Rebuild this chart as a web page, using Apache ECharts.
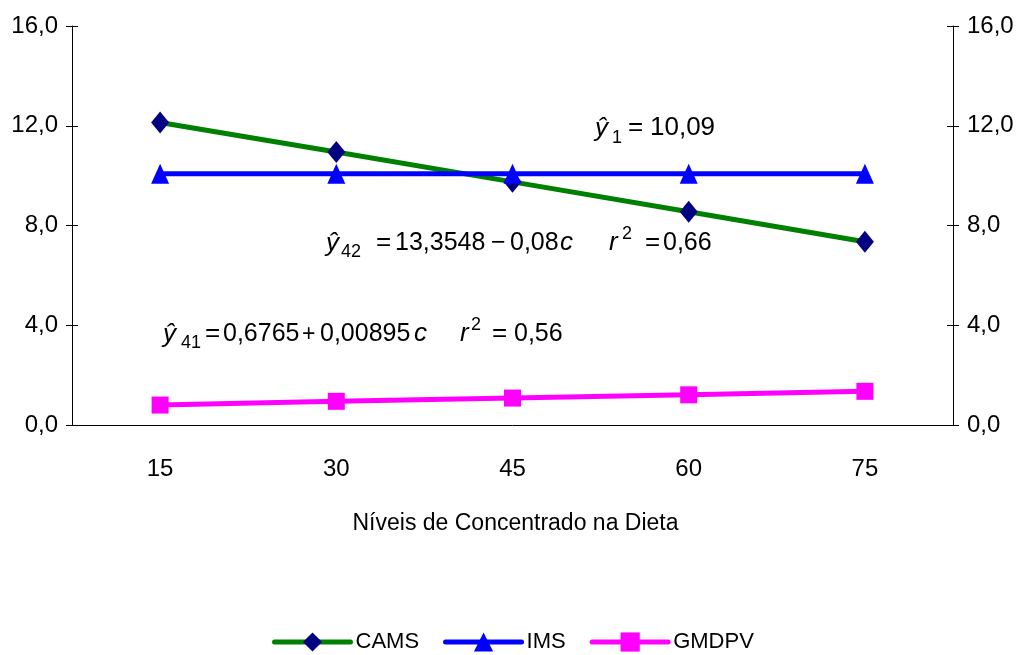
<!DOCTYPE html>
<html>
<head>
<meta charset="utf-8">
<script src="https://cdn.jsdelivr.net/npm/echarts@6/dist/echarts.min.js"></script>
<style>
  html, body { margin: 0; padding: 0; background: #fff; }
  #chart { width: 1022px; height: 655px; }
</style>
</head>
<body>
<div id="chart"></div>
<script>
// niveis de concentrado (eixo x)
var niveis = ['15', '30', '45', '60', '75'];
// valores
var cams = [12.13, 10.95, 9.75, 8.55, 7.35];
var ims = [10.08, 10.08, 10.08, 10.08, 10.08];
var gmdpv = [0.80, 0.95, 1.08, 1.21, 1.35];
var yTicks = [0, 4, 8, 12, 16];

var FONT = '"Liberation Sans", Arial, sans-serif';

function fmt(v) {
    return v.toFixed(1).replace('.', ',');
}

// pedaços das equações: texto, x, linha de base, tamanho, itálico
var eq1 = [
    ['ŷ', 595, 138, 26, true],
    ['1', 612, 144, 18, false],
    ['=', 628, 137, 26, false],
    ['10,09', 650, 137, 26, false]
];
var eq2 = [
    ['ŷ', 326, 253, 26, true],
    ['42', 341, 258, 18, false],
    ['=', 376, 252, 26, false],
    ['13,3548', 395, 252, 25, false],
    ['\u2212', 491, 252, 25, false],
    ['0,08', 510, 252, 25, false],
    ['c', 560, 252, 26, true],
    ['r', 609, 252, 26, true],
    ['2', 622, 240, 18, false],
    ['=', 645, 252, 26, false],
    ['0,66', 663, 252, 25, false]
];
var eq3 = [
    ['ŷ', 163, 344, 26, true],
    ['41', 181, 349, 18, false],
    ['=', 205, 343, 26, false],
    ['0,6765', 223, 343, 25, false],
    ['+', 302, 343, 23, false],
    ['0,00895', 320, 343, 25, false],
    ['c', 414, 343, 26, true],
    ['r', 460, 343, 26, true],
    ['2', 471, 331, 18, false],
    ['=', 492, 343, 26, false],
    ['0,56', 514, 343, 25, false]
];

function eqGraphics(list) {
    return list.map(function (p) {
        return {
            type: 'text',
            x: p[1],
            y: p[2] - p[3] * 0.35,
            style: {
                text: p[0],
                fontSize: p[3],
                fontStyle: p[4] ? 'italic' : 'normal',
                fontFamily: FONT,
                fill: '#000',
                verticalAlign: 'middle',
                align: 'left'
            }
        };
    });
}

function yAxisDef(pos, showLabel, inside) {
    return {
        type: 'value',
        position: pos,
        min: 0,
        max: 16,
        interval: 4,
        axisLine: { show: showLabel, lineStyle: { color: '#000', width: 1 } },
        axisTick: { show: true, inside: inside, length: 6, lineStyle: { color: '#000' } },
        axisLabel: {
            show: showLabel,
            formatter: fmt,
            margin: 14,
            fontSize: 24,
            fontFamily: FONT,
            color: '#000'
        },
        splitLine: { show: false }
    };
}

var chart = echarts.init(document.getElementById('chart'), null, { renderer: 'canvas' });

chart.setOption({
    animation: false,
    backgroundColor: '#fff',
    grid: { left: 72, right: 69, top: 26, bottom: 230, containLabel: false },
    xAxis: [{
        type: 'category',
        data: niveis,
        boundaryGap: true,
        axisLine: { lineStyle: { color: '#000', width: 1 } },
        axisTick: { length: 7, lineStyle: { color: '#000' } },
        axisLabel: { margin: 32, fontSize: 24, fontFamily: FONT, color: '#000' },
        name: 'Níveis de Concentrado na Dieta',
        nameLocation: 'middle',
        nameGap: 87,
        nameTextStyle: { fontSize: 23, fontFamily: FONT, color: '#000', padding: [0, 0, 0, 6] }
    }, {
        type: 'category',
        data: niveis,
        position: 'bottom',
        boundaryGap: true,
        axisLine: { show: false },
        axisTick: { inside: true, length: 7, lineStyle: { color: '#000' } },
        axisLabel: { show: false }
    }],
    yAxis: [
        yAxisDef('left', true, false),
        yAxisDef('right', true, false),
        yAxisDef('left', false, true),
        yAxisDef('right', false, true)
    ],
    legend: {
        left: 267,
        top: 626,
        itemWidth: 76,
        itemHeight: 24,
        itemGap: 24,
        lineStyle: { width: 5, cap: 'round' },
        textStyle: { fontSize: 22, fontFamily: FONT, color: '#000' },
        data: ['CAMS', 'IMS', 'GMDPV']
    },
    series: [{
        name: 'CAMS',
        type: 'line',
        data: cams,
        symbol: 'diamond',
        symbolSize: [18, 22],
        lineStyle: { color: '#008000', width: 5 },
        itemStyle: { color: '#000080' }
    }, {
        name: 'IMS',
        type: 'line',
        data: ims,
        symbol: 'triangle',
        symbolSize: [18, 20],
        lineStyle: { color: '#0000ff', width: 5 },
        itemStyle: { color: '#0000ff' }
    }, {
        name: 'GMDPV',
        type: 'line',
        data: gmdpv,
        symbol: 'rect',
        symbolSize: [17, 17],
        lineStyle: { color: '#ff00ff', width: 5 },
        itemStyle: { color: '#ff00ff' }
    }],
    graphic: eqGraphics(eq1).concat(eqGraphics(eq2), eqGraphics(eq3))
});
</script>
</body>
</html>
